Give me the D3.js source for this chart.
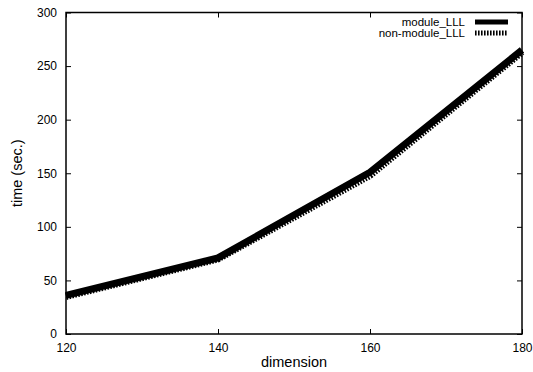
<!DOCTYPE html>
<html>
<head>
<meta charset="utf-8">
<script src="https://cdn.jsdelivr.net/npm/d3@7"></script>
<style>
  body { margin: 0; background: #fff; }
  svg text { font-family: "Liberation Sans", Arial, sans-serif; fill: #000; }
</style>
</head>
<body>
<svg id="chart" width="533" height="372"></svg>
<script>
/* datos */
const dimension = [120, 140, 160, 180];
const moduleLLL = [36, 71, 151, 265];
const nonModuleLLL = [35, 70, 148, 263];
const xTicks = [120, 140, 160, 180];
const yTicks = [0, 50, 100, 150, 200, 250, 300];

const svg = d3.select("#chart");
const m = { left: 66, right: 11, top: 12.5, bottom: 38 };
const W = 533, H = 372;

const x = d3.scaleLinear().domain([120, 180]).range([m.left, W - m.right]);
const y = d3.scaleLinear().domain([0, 300]).range([H - m.bottom, m.top]);

/* series */
const series = [
  { name: "module_LLL", values: moduleLLL, dash: null },
  { name: "non-module_LLL", values: nonModuleLLL, dash: "1.6,1.4" }
];

const line = d3.line().x((d, i) => x(dimension[i])).y(d => y(d));

/* la punteada abajo, la sólida encima */
svg.append("g").selectAll("path")
  .data(series.slice().reverse())
  .join("path")
  .attr("d", d => line(d.values))
  .attr("fill", "none")
  .attr("stroke", "#000")
  .attr("stroke-width", 7)
  .attr("stroke-linejoin", "miter")
  .attr("stroke-dasharray", d => d.dash);

/* ejes con marcas hacia adentro */
const gx = svg.append("g").attr("transform", `translate(0,${y(0)})`)
  .call(d3.axisBottom(x).tickValues(xTicks).tickSize(-5).tickPadding(9).tickFormat(d3.format("d")));
const gxTop = svg.append("g").attr("transform", `translate(0,${y(300)})`)
  .call(d3.axisTop(x).tickValues(xTicks).tickSize(-5).tickFormat(""));
const gy = svg.append("g").attr("transform", `translate(${x(120)},0)`)
  .call(d3.axisLeft(y).tickValues(yTicks).tickSize(-5).tickPadding(9));
const gyRight = svg.append("g").attr("transform", `translate(${x(180)},0)`)
  .call(d3.axisRight(y).tickValues(yTicks).tickSize(-5).tickFormat(""));

[gx, gxTop, gy, gyRight].forEach(g => {
  g.select(".domain").remove();
  g.selectAll("line").attr("stroke", "#000").attr("stroke-width", 1);
  g.selectAll("text").attr("font-size", 12).attr("font-family", "Liberation Sans, Arial, sans-serif");
});

/* marco */
svg.append("rect")
  .attr("x", x(120)).attr("y", y(300))
  .attr("width", x(180) - x(120)).attr("height", y(0) - y(300))
  .attr("fill", "none").attr("stroke", "#000").attr("stroke-width", 1.5);

/* títulos de ejes */
svg.append("text")
  .attr("x", (x(120) + x(180)) / 2).attr("y", 367)
  .attr("text-anchor", "middle").attr("font-size", 14.5)
  .text("dimension");

svg.append("text")
  .attr("transform", `translate(22,${(y(0) + y(300)) / 2}) rotate(-90)`)
  .attr("text-anchor", "middle").attr("font-size", 14.5)
  .text("time (sec.)");

/* leyenda */
const leg = svg.append("g").selectAll("g")
  .data(series)
  .join("g")
  .attr("transform", (d, i) => `translate(0,${22 + i * 11})`);

leg.append("text")
  .attr("x", 465).attr("dy", "0.35em")
  .attr("text-anchor", "end").attr("font-size", 11.5)
  .text(d => d.name);

leg.append("line")
  .attr("x1", 475).attr("x2", 508)
  .attr("stroke", "#000").attr("stroke-width", 5)
  .attr("stroke-dasharray", d => d.dash);
</script>
</body>
</html>
